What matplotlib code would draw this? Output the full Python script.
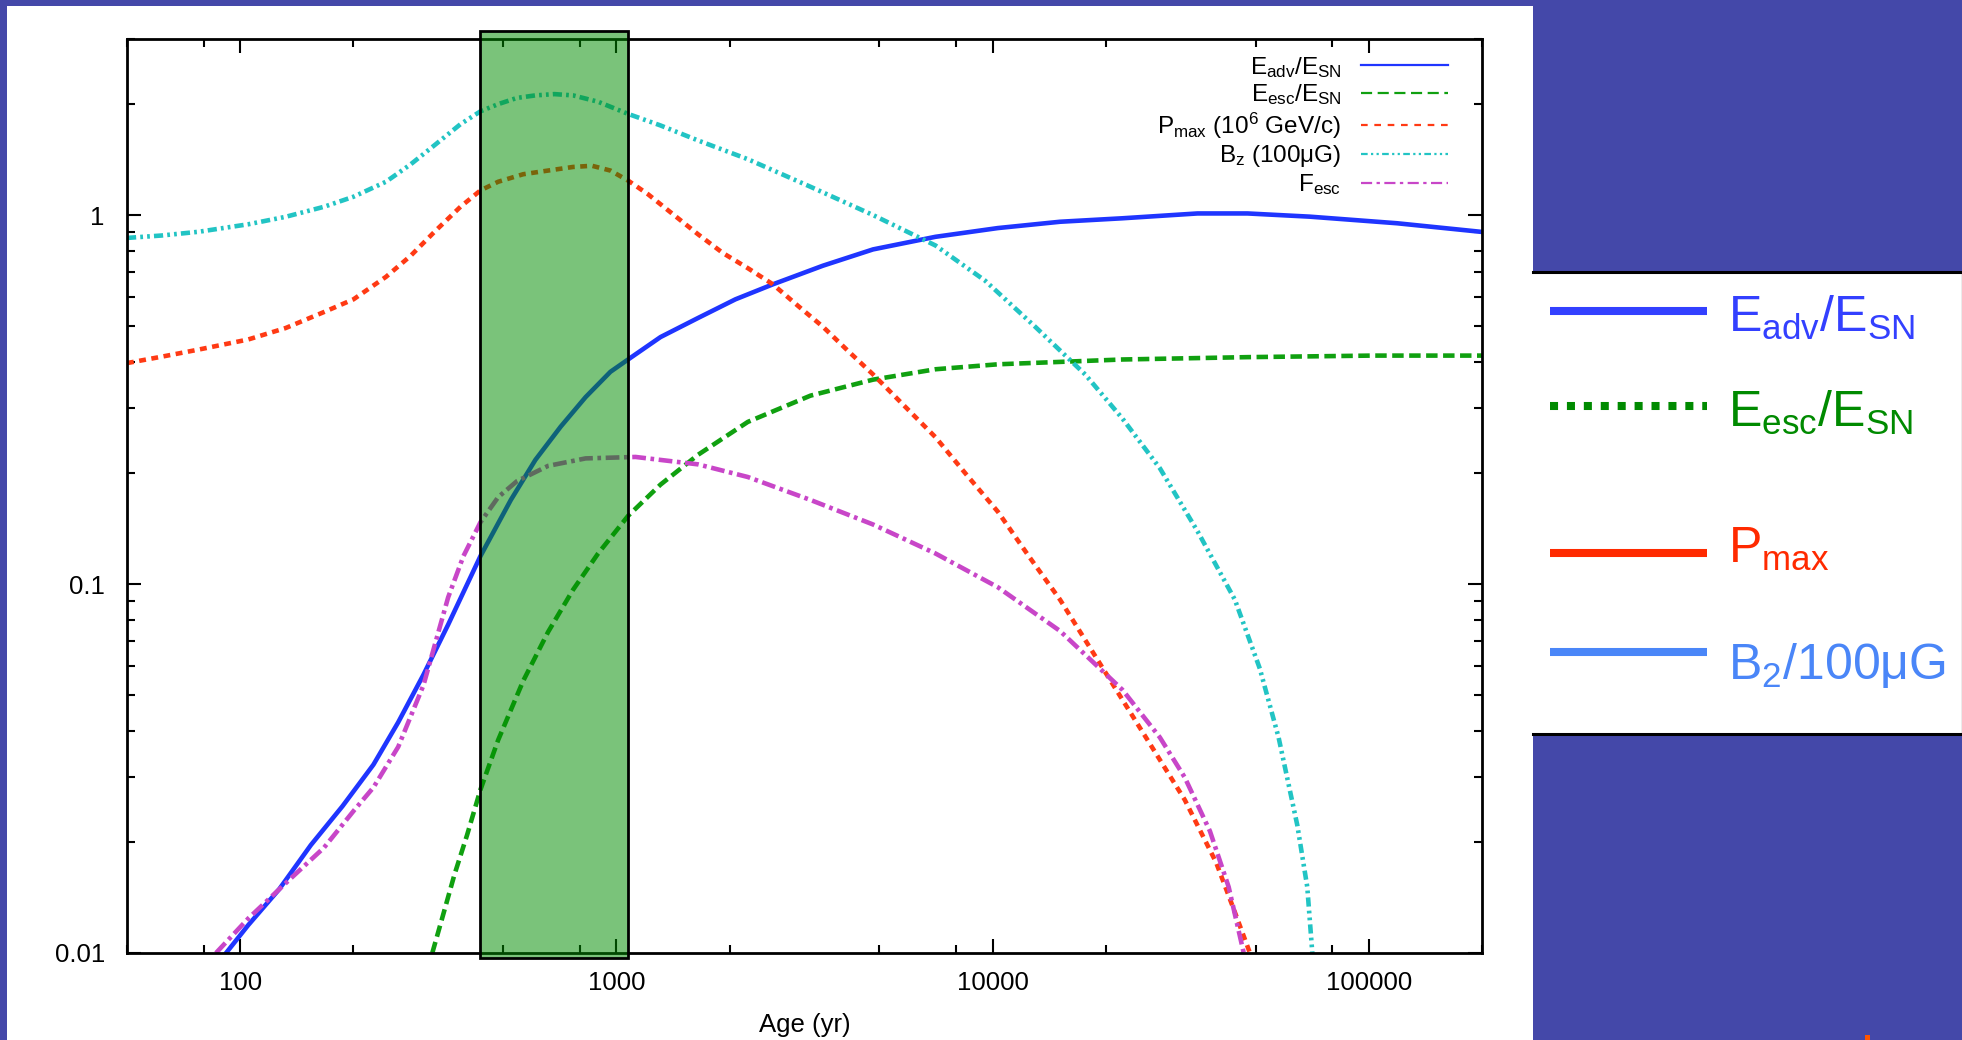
import matplotlib.pyplot as plt
from matplotlib.patches import Rectangle
from matplotlib.lines import Line2D
from matplotlib.ticker import LogLocator, NullFormatter

plt.rcParams['font.family'] = ['Liberation Sans', 'DejaVu Sans']
plt.rcParams['mathtext.default'] = 'regular'

# --- curves: age (yr) vs value ---
adv_age = [91.7, 105, 127, 154, 187, 226, 263, 307, 357, 435, 524, 609, 711,
           828, 964, 1074, 1310, 1648, 2072, 2606, 3540, 4810, 7050, 10330, 15110,
           22130, 35060, 47610, 69700, 119000, 200000]
adv_val = [0.0100, 0.0119, 0.0149, 0.0196, 0.0250, 0.0324, 0.0422, 0.0568, 0.0776,
           0.119, 0.169, 0.217, 0.267, 0.321, 0.376, 0.406, 0.467, 0.526,
           0.591, 0.649, 0.729, 0.807, 0.873, 0.922, 0.959, 0.98, 1.01, 1.01, 0.99,
           0.95, 0.90]

esc_age = [324, 344, 371, 401, 435, 485, 565, 658, 767, 894, 1074, 1310, 1648, 2235,
           3280, 4810, 7050, 10330, 22130, 47610, 102000, 200000]
esc_val = [0.0100, 0.0124, 0.0163, 0.0209, 0.0277, 0.0378, 0.0546, 0.0741, 0.0965,
           0.121, 0.153, 0.186, 0.224, 0.275, 0.324, 0.358, 0.382, 0.394, 0.406, 0.412,
           0.416, 0.416]

pmax_age = [50, 61.7, 77.6, 105, 132, 167, 200, 244, 284, 331, 385, 435, 485, 565, 658,
            767, 861, 964, 1074, 1213, 1414, 1648, 1919, 2235, 2606, 3035, 3540, 4121,
            4810, 5826, 7050, 8518, 10330, 12480, 15110, 18290, 22130, 26820, 32430,
            39280, 44060, 48320]
pmax_val = [0.397, 0.413, 0.432, 0.460, 0.494, 0.546, 0.591, 0.680, 0.776, 0.908, 1.053,
            1.166, 1.231, 1.29, 1.32, 1.35, 1.36, 1.32, 1.24, 1.139, 1.005, 0.887, 0.789,
            0.718, 0.649, 0.568, 0.498, 0.429, 0.370, 0.304, 0.250, 0.198, 0.157, 0.119,
            0.0907, 0.0664, 0.0486, 0.0355, 0.0260, 0.0176, 0.0129, 0.0100]

bz_age = [50, 61.7, 77.6, 105, 132, 167, 200, 244, 284, 331, 385, 435, 485, 544, 609,
          684, 767, 894, 1074, 1310, 1648, 2235, 3280, 4810, 7050, 9553, 12980, 17620,
          22130, 27840, 35060, 44060, 51330, 57580, 64570, 68630, 70790]
bz_val = [0.867, 0.880, 0.901, 0.944, 0.989, 1.053, 1.121, 1.231, 1.373, 1.556, 1.763,
          1.91, 1.998, 2.077, 2.11, 2.127, 2.11, 2.028, 1.88, 1.749, 1.593, 1.417, 1.193,
          1.00, 0.827, 0.664, 0.498, 0.370, 0.281, 0.206, 0.139, 0.0907, 0.0590, 0.0384,
          0.0222, 0.0151, 0.0100]

fesc_age = [86.2, 105, 136, 167, 201, 226, 263, 307, 357, 392, 435, 485, 544, 658, 828,
            1124, 1648, 2235, 3280, 4810, 7050, 10330, 15110, 22130, 27840, 32430, 37820,
            42420, 46520]
fesc_val = [0.0100, 0.0124, 0.0159, 0.0193, 0.0244, 0.0281, 0.0362, 0.0532, 0.092,
            0.119, 0.147, 0.172, 0.190, 0.209, 0.219, 0.221, 0.211, 0.195, 0.169, 0.145,
            0.121, 0.098, 0.0746, 0.0517, 0.0384, 0.0299, 0.0214, 0.0151, 0.0100]

# highlighted age window
span_start, span_end = 435, 1075

labels_in = [r'E$_{adv}$/E$_{SN}$', r'E$_{esc}$/E$_{SN}$',
             r'P$_{max}$ (10$^6$ GeV/c)', r'B$_z$ (100μG)', r'F$_{esc}$']
colors_in = ['#1f35ff', '#10a010', '#ff3a14', '#22c4c4', '#c846c8']
styles_in = ['-', (0, (2.5, 1.2)), (0, (1.5, 1.2)),
             (0, (2, 0.9, 0.6, 0.9, 0.6, 0.9)), (0, (3, 1, 0.8, 1))]
key_styles_in = ['-', (0, (5, 2.5)), (0, (3, 3)),
                 (0, (3, 1.5, 1, 1.5, 1, 1.5)), (0, (5, 2, 1.5, 2))]

key_labels = [r'E$_{adv}$/E$_{SN}$', r'E$_{esc}$/E$_{SN}$', r'P$_{max}$', r'B$_2$/100μG']
key_colors = ['#3340ff', '#008a00', '#ff2a00', '#4a86f8']
key_styles = ['-', (0, (1, 1.1)), '-', '-']

BG = '#4448a9'
W, H = 1962, 1040

fig = plt.figure(figsize=(W / 100, H / 100), dpi=100, facecolor=BG)
fig.add_artist(Rectangle((7 / W, 0), 1526 / W, 1 - 6 / H, transform=fig.transFigure,
                         facecolor='white', edgecolor='none', zorder=-1))

ax = fig.add_axes([127 / W, 1 - 953 / H, 1355 / W, 914 / H])
ax.set_xscale('log')
ax.set_yscale('log')

series = [(adv_age, adv_val), (esc_age, esc_val), (pmax_age, pmax_val),
          (bz_age, bz_val), (fesc_age, fesc_val)]
for (a, v), c, ls in zip(series, colors_in, styles_in):
    ax.plot(a, v, color=c, lw=3.3, ls=ls, dash_capstyle='butt',
            solid_joinstyle='round', dash_joinstyle='round')

ax.axvspan(span_start, span_end, ymin=-0.006, ymax=1.009, clip_on=False,
           facecolor=(0, 0.55, 0, 0.52), edgecolor='black', lw=2.0, zorder=4)

ax.set_xlim(50, 200000)
ax.set_ylim(0.01, 3)

ax.set_xticks([100, 1000, 10000, 100000], labels=['100', '1000', '10000', '100000'])
ax.xaxis.set_minor_locator(LogLocator(base=10, subs=(2, 5, 8)))
ax.xaxis.set_minor_formatter(NullFormatter())
ax.set_yticks([0.01, 0.1, 1], labels=['0.01', '0.1', '1'])
ax.yaxis.set_minor_locator(LogLocator(base=10, subs=(2, 3, 4, 5, 6, 7, 8, 9)))
ax.yaxis.set_minor_formatter(NullFormatter())

ax.tick_params(which='both', direction='in', top=True, right=True, width=1.5,
               labelsize=18.5)
ax.tick_params(which='major', length=10)
ax.tick_params(which='minor', length=6)
ax.tick_params(axis='x', pad=13)
ax.tick_params(axis='y', pad=16)
for sp in ax.spines.values():
    sp.set_linewidth(2)

ax.set_xlabel('Age (yr)', fontsize=18.5, labelpad=13)

proxies = [Line2D([], [], color=c, lw=1.6, ls=ls)
           for c, ls in zip(colors_in, key_styles_in)]
ax.legend(proxies, labels_in, loc='upper right',
          bbox_to_anchor=(1 - 24 / 1355, 1 - 6 / 914), borderaxespad=0,
          frameon=False, markerfirst=False, fontsize=17.5, handlelength=3.6,
          handletextpad=0.8, labelspacing=0.12)

# side key panel
kx = fig.add_axes([1533 / W, 1 - 734 / H, 429 / W, 462 / H])
kx.set_xlim(0, 429)
kx.set_ylim(462, 0)
kx.set_xticks([])
kx.set_yticks([])
kx.spines['left'].set_visible(False)
kx.spines['right'].set_color('#999999')
kx.spines['right'].set_linewidth(1)
kx.spines['top'].set_linewidth(2.2)
kx.spines['bottom'].set_linewidth(2.2)

key_rows = [39, 134, 281, 380]
key_base = [60, 155, 291, 407]
for lab, c, ls, yr, yb in zip(key_labels, key_colors, key_styles, key_rows, key_base):
    kx.plot([17, 174], [yr, yr], color=c, lw=5.8, ls=ls,
            solid_capstyle='butt', dash_capstyle='butt')
    kx.text(195, yb, lab, color=c, fontsize=36, va='baseline', ha='left')

fig.add_artist(Rectangle((1865 / W, 0), 5 / W, 5 / H, transform=fig.transFigure,
                         facecolor='#ff5500', edgecolor='none'))

fig.savefig('out.png', dpi=100, facecolor=BG)
